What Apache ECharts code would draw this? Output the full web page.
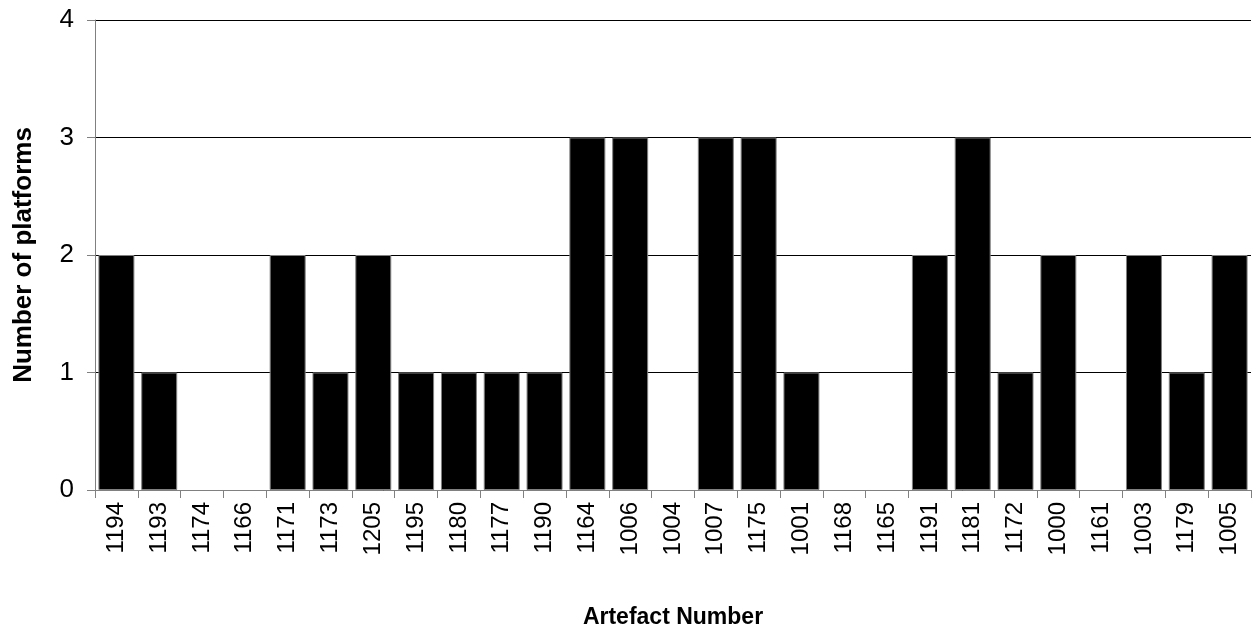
<!DOCTYPE html>
<html><head><meta charset="utf-8">
<script src="https://cdn.jsdelivr.net/npm/echarts@6/dist/echarts.min.js"></script>
<style>html,body{margin:0;padding:0;background:#fff}#c{width:1257px;height:635px}</style>
</head><body><div id="c"></div>
<script>
const categories = ['1194','1193','1174','1166','1171','1173','1205','1195','1180','1177','1190','1164','1006','1004','1007','1175','1001','1168','1165','1191','1181','1172','1000','1161','1003','1179','1005'];
const platforms = [2,1,0,0,2,1,2,1,1,1,1,3,3,0,3,3,1,0,0,2,3,1,2,0,2,1,2];
const yTicks = [0,1,2,3,4];

const chart = echarts.init(document.getElementById('c'), null, {renderer:'canvas'});
chart.setOption({
  animation:false,
  backgroundColor:'#fff',
  grid:{left:95,right:6,top:20,bottom:145,containLabel:false},
  xAxis:{
    type:'category', data:categories,
    name:'Artefact Number', nameLocation:'middle', nameGap:116,
    nameTextStyle:{fontFamily:'Liberation Sans',fontWeight:'bold',fontSize:23,color:'#000'},
    axisLine:{lineStyle:{color:'#808080',width:1}},
    axisTick:{show:true,alignWithLabel:false,length:8,lineStyle:{color:'#808080'}},
    axisLabel:{rotate:90,fontFamily:'Liberation Sans',fontSize:24,color:'#000',margin:12,interval:0}
  },
  yAxis:{
    type:'value', min:0, max:4, interval:1,
    name:'Number of platforms', nameLocation:'middle', nameGap:58,
    nameTextStyle:{fontFamily:'Liberation Sans',fontWeight:'bold',fontSize:26,color:'#000'},
    axisLine:{show:true,lineStyle:{color:'#808080',width:1}},
    axisTick:{show:true,length:8,lineStyle:{color:'#808080'}},
    axisLabel:{fontFamily:'Liberation Sans',fontSize:26,color:'#000',margin:21,
      formatter:v=>yTicks.includes(v)?String(v):''},
    splitLine:{show:true,lineStyle:{color:'#000',width:1}}
  },
  series:[{
    type:'bar', barCategoryGap:'16%',
    data:platforms.map(v=>({value:v,itemStyle:{borderWidth:v===0?0:1}})),
    itemStyle:{color:'#000',borderColor:'#808080',borderWidth:1}
  }]
});
</script></body></html>
